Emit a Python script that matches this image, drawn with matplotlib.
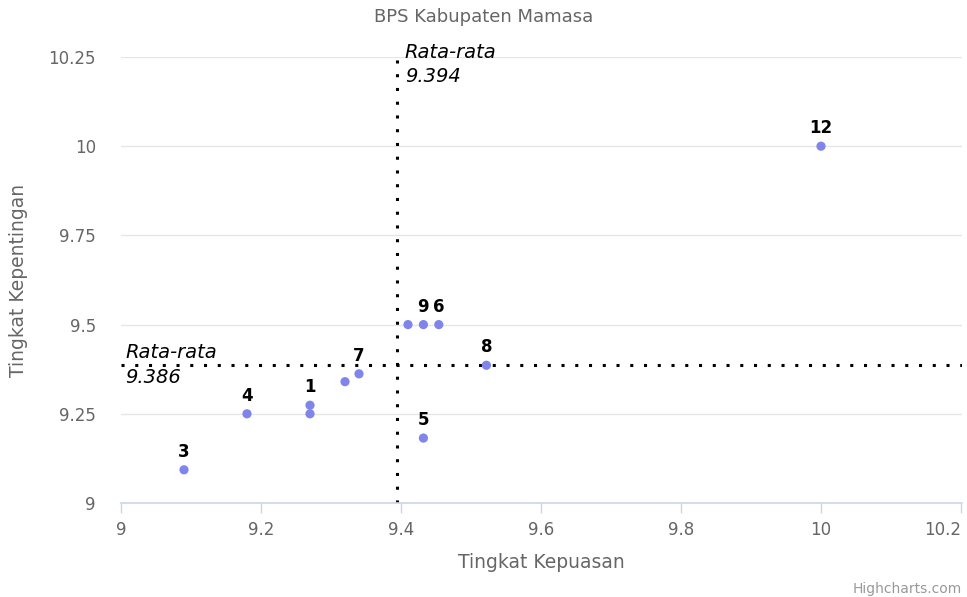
import numpy as np
import matplotlib.pyplot as plt
from matplotlib.ticker import FixedLocator, FuncFormatter

# Data ---------------------------------
names = ['1', '2', '3', '4', '5', '6', '7', '8', '9', '10', '11', '12']
kepuasan = [9.27, 9.27, 9.09, 9.18, 9.432, 9.454, 9.34, 9.522, 9.432, 9.32, 9.41, 10.0]
kepentingan = [9.274, 9.25, 9.093, 9.25, 9.182, 9.5, 9.362, 9.386, 9.5, 9.34, 9.5, 10.0]
hidden_labels = ['2', '10', '11']  # labels hidden by overlap in the original
avg_x = 9.394
avg_y = 9.386
x_ticks = [9, 9.2, 9.4, 9.6, 9.8, 10, 10.2]
y_ticks = [9, 9.25, 9.5, 9.75, 10, 10.25]
# --------------------------------------

plt.rcParams['font.family'] = ['DejaVu Sans']
PX = 0.72  # points per pixel at dpi 100

W, H = 967, 597
fig = plt.figure(figsize=(W / 100, H / 100), dpi=100)
L, R, T, B = 121, 962, 57, 503
ax = fig.add_axes([L / W, 1 - B / H, (R - L) / W, (B - T) / H])

ax.set_xlim(9, 10.2 + 1 / 700)
ax.set_ylim(9, 10.25)

for s in ['top', 'right', 'left']:
	ax.spines[s].set_visible(False)
ax.spines['bottom'].set_color('#ccd6eb')
ax.spines['bottom'].set_linewidth(1.2)

ax.xaxis.set_major_locator(FixedLocator(x_ticks))
ax.yaxis.set_major_locator(FixedLocator(y_ticks))
fmt = FuncFormatter(lambda v, p: ('%g' % v))
ax.xaxis.set_major_formatter(fmt)
ax.yaxis.set_major_formatter(fmt)
ax.tick_params(axis='x', colors='#ccd6eb', length=10 * PX, width=1, pad=8 * PX, labelsize=12, labelcolor='#666666')
ax.tick_params(axis='y', length=0, pad=25 * PX, labelsize=12, labelcolor='#666666')
ax.grid(axis='y', color='#e6e6e6', linewidth=1)
ax.set_axisbelow(True)

# last x label kept inside the figure, as the original does
fig.canvas.draw()
ax.get_xticklabels()[-1].set_horizontalalignment('right')

ax.set_xlabel('Tingkat Kepuasan', fontsize=13.5, color='#666666', labelpad=10)
ax.set_ylabel('Tingkat Kepentingan', fontsize=13.5, color='#666666', labelpad=15)
fig.text(0.5, 1 - 17 / H, 'BPS Kabupaten Mamasa', ha='center', va='center', fontsize=13, color='#666666')
fig.text(1 - 5 / W, 1 - 589 / H, 'Highcharts.com', ha='right', va='center', fontsize=10, color='#999999')

# average lines
dots = dict(color='black', linewidth=2.2, linestyle=(0, (1, 3.5)), dash_capstyle='butt', zorder=2)
ax.axvline(avg_x, **dots)
ax.axhline(avg_y, **dots)
lab = dict(textcoords='offset points', ha='left', va='baseline', fontsize=14, style='italic', color='black')
ax.annotate('Rata-rata', (avg_x, 10.25), xytext=(8 * PX, -1 * PX), **lab)
ax.annotate('%.3f' % avg_x, (avg_x, 10.25), xytext=(8 * PX, -25 * PX), **lab)
ax.annotate('Rata-rata', (9, avg_y), xytext=(4 * PX, 7 * PX), **lab)
ax.annotate('%.3f' % avg_y, (9, avg_y), xytext=(4 * PX, -18 * PX), **lab)

ax.scatter(kepuasan, kepentingan, s=44, color='#8085e9', edgecolors='none', zorder=3)
for n, x, y in zip(names, kepuasan, kepentingan):
	if n in hidden_labels:
		continue
	ax.annotate(n, (x, y), xytext=(0, 13 * PX), textcoords='offset points', ha='center', va='baseline',
		fontsize=12, fontweight='bold', color='black', zorder=4)

fig.savefig('out.png', dpi=100)
